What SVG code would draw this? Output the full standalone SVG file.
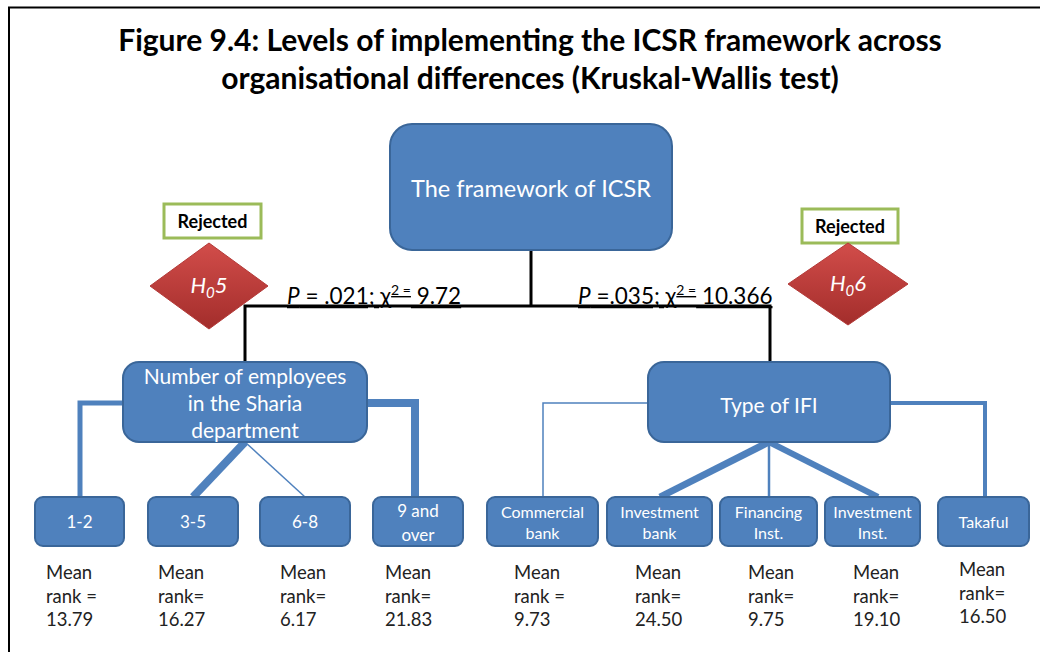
<svg xmlns="http://www.w3.org/2000/svg" width="1040" height="652" viewBox="0 0 1040 652">
<defs>
<linearGradient id="red" x1="0" y1="0" x2="0" y2="1">
<stop offset="0" stop-color="#D24D4A"/>
<stop offset="1" stop-color="#A32D2B"/>
</linearGradient>
<style>
text{font-family:Lato,"Open Sans","Liberation Sans",sans-serif}
.title{font-size:30px;font-weight:bold;fill:#000;text-anchor:middle}
.box{fill:#4F81BD;stroke:#3A6699;stroke-width:2}
.wt{fill:#fff;text-anchor:middle}
.big{font-size:23.5px}
.mid{font-size:21px}
.sm{font-size:17px}
.xs{font-size:16px}
.rej{fill:#fff;stroke:#9BBB59;stroke-width:3}
.rejt{font-size:18px;font-weight:bold;fill:#000;text-anchor:middle}
.dia{fill:url(#red);stroke:#B33A38;stroke-width:1}
.h{font-size:22px;font-style:italic;fill:#fff;text-anchor:middle}
.p{font-size:22.5px;fill:#000;text-decoration:underline}
.mr{font-size:18.5px;fill:#222}
.blk{stroke:#000;stroke-width:3;fill:none}
.bl{stroke:#4F81BD;fill:none}
</style>
</defs>
<rect width="1040" height="652" fill="#fff"/>
<path d="M9 652 V7.5 H1040" fill="none" stroke="#000" stroke-width="2"/>
<text class="title" x="530" y="51">Figure 9.4: Levels of implementing the ICSR framework across</text>
<text class="title" x="530" y="89">organisational differences (Kruskal-Wallis test)</text>

<g id="connectors">
<path class="blk" d="M531 250 V306"/>
<path class="blk" d="M245 364 V306 H770 V362"/>
<path class="bl" stroke-width="5" d="M124 403 H80 V497"/>
<path class="bl" stroke-width="8" d="M245 442 L193 497"/>
<path class="bl" stroke-width="1.5" d="M245 442 L305 497"/>
<path class="bl" stroke-width="8" d="M366 403 H415 V497"/>
<path class="bl" stroke-width="1.5" d="M649 403 H543 V497"/>
<path class="bl" stroke-width="7" d="M769 442 L660 497"/>
<path class="bl" stroke-width="2.5" d="M769 442 V497"/>
<path class="bl" stroke-width="6" d="M769 442 L878 497"/>
<path class="bl" stroke-width="4" d="M889 403 H985 V497"/>
</g>

<g id="root">
<rect class="box" x="390" y="124" width="282" height="126" rx="22"/>
<text class="wt big" x="531" y="197">The framework of ICSR</text>
</g>

<g id="rejected5">
<rect class="rej" x="164" y="204" width="97" height="34"/>
<text class="rejt" x="212.5" y="228">Rejected</text>
</g>
<g id="h05">
<polygon class="dia" points="209,243 268,286 209,329 150,286"/>
<text class="h" x="209" y="293">H<tspan font-size="15" dy="5">0</tspan><tspan dy="-5">5</tspan></text>
</g>
<g id="rejected6">
<rect class="rej" x="802" y="209" width="96" height="34"/>
<text class="rejt" x="850" y="233">Rejected</text>
</g>
<g id="h06">
<polygon class="dia" points="848,243 908,284 848,325 788,284"/>
<text class="h" x="848" y="291">H<tspan font-size="15" dy="5">0</tspan><tspan dy="-5">6</tspan></text>
</g>

<g id="p5"><text class="p" x="287" y="304"><tspan font-style="italic">P</tspan> = .021; χ<tspan font-size="14" dy="-9">2 =</tspan><tspan dy="9"> 9.72</tspan></text></g>
<g id="p6"><text class="p" x="578" y="304"><tspan font-style="italic">P</tspan> =.035; χ<tspan font-size="14" dy="-9">2 =</tspan><tspan dy="9"> 10.366</tspan></text></g>

<g id="employees">
<rect class="box" x="123" y="362" width="244" height="80" rx="16"/>
<text class="wt mid" x="245" y="384">Number of employees</text>
<text class="wt mid" x="245" y="411">in the Sharia</text>
<text class="wt mid" x="245" y="438">department</text>
</g>
<g id="ifi">
<rect class="box" x="648" y="362" width="242" height="80" rx="16"/>
<text class="wt mid" x="769" y="413">Type of IFI</text>
</g>

<g id="e12"><rect class="box" x="35" y="497" width="89" height="49" rx="8"/><text class="wt sm" x="79.5" y="528">1-2</text></g>
<g id="e35"><rect class="box" x="148" y="497" width="90" height="49" rx="8"/><text class="wt sm" x="193" y="528">3-5</text></g>
<g id="e68"><rect class="box" x="260" y="497" width="90" height="49" rx="8"/><text class="wt sm" x="305" y="528">6-8</text></g>
<g id="e9"><rect class="box" x="373" y="497" width="90" height="49" rx="8"/><text class="wt sm" x="418" y="517">9 and</text><text class="wt sm" x="418" y="541">over</text></g>

<g id="commercial"><rect class="box" x="487" y="497" width="111" height="49" rx="8"/><text class="wt xs" x="542.5" y="518">Commercial</text><text class="wt xs" x="542.5" y="539">bank</text></g>
<g id="invbank"><rect class="box" x="607" y="497" width="105" height="49" rx="8"/><text class="wt xs" x="659.5" y="518">Investment</text><text class="wt xs" x="659.5" y="539">bank</text></g>
<g id="financing"><rect class="box" x="720" y="497" width="97" height="49" rx="8"/><text class="wt xs" x="768.5" y="518">Financing</text><text class="wt xs" x="768.5" y="539">Inst.</text></g>
<g id="invinst"><rect class="box" x="825" y="497" width="95" height="49" rx="8"/><text class="wt xs" x="872.5" y="518">Investment</text><text class="wt xs" x="872.5" y="539">Inst.</text></g>
<g id="takaful"><rect class="box" x="938" y="497" width="91" height="49" rx="8"/><text class="wt xs" x="983.5" y="528">Takaful</text></g>

<g id="ranks">
<text class="mr" x="46" y="579">Mean</text><text class="mr" x="46" y="603">rank =</text><text class="mr" x="46" y="626">13.79</text>
<text class="mr" x="158" y="579">Mean</text><text class="mr" x="158" y="603">rank=</text><text class="mr" x="158" y="626">16.27</text>
<text class="mr" x="280" y="579">Mean</text><text class="mr" x="280" y="603">rank=</text><text class="mr" x="280" y="626">6.17</text>
<text class="mr" x="385" y="579">Mean</text><text class="mr" x="385" y="603">rank=</text><text class="mr" x="385" y="626">21.83</text>
<text class="mr" x="514" y="579">Mean</text><text class="mr" x="514" y="603">rank =</text><text class="mr" x="514" y="626">9.73</text>
<text class="mr" x="635" y="579">Mean</text><text class="mr" x="635" y="603">rank=</text><text class="mr" x="635" y="626">24.50</text>
<text class="mr" x="748" y="579">Mean</text><text class="mr" x="748" y="603">rank=</text><text class="mr" x="748" y="626">9.75</text>
<text class="mr" x="853" y="579">Mean</text><text class="mr" x="853" y="603">rank=</text><text class="mr" x="853" y="626">19.10</text>
<text class="mr" x="959" y="576">Mean</text><text class="mr" x="959" y="600">rank=</text><text class="mr" x="959" y="623">16.50</text>
</g>
</svg>
